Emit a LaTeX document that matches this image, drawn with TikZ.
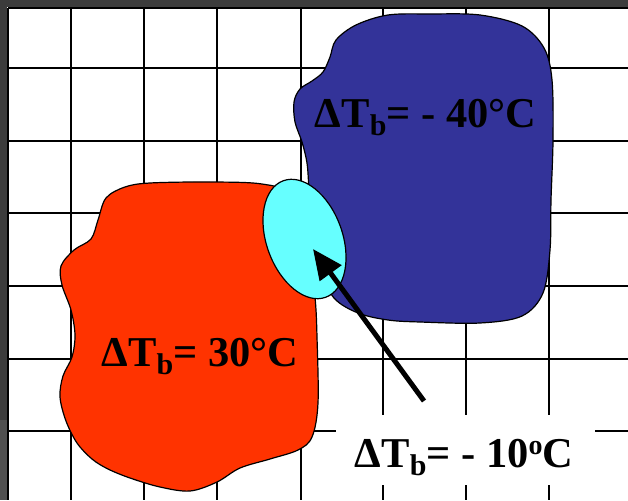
\documentclass[tikz,border=0pt]{standalone}
\usepackage{fontspec}
\setmainfont{Liberation Serif}
\usepackage{xcolor}
\usetikzlibrary{arrows.meta,shapes.geometric}
\definecolor{slidegray}{HTML}{3C3C3C}
\definecolor{slidegraylow}{HTML}{505050}
\definecolor{coldblue}{HTML}{333399}
\definecolor{hotred}{HTML}{FF3300}
\definecolor{mixcyan}{HTML}{66FFFF}
\newcommand{\tsub}[1]{\raisebox{-8pt}{\fontsize{30}{30}\selectfont #1}}
\newcommand{\tsup}[1]{\raisebox{13pt}{\fontsize{28}{28}\selectfont #1}}

\begin{document}
\begin{tikzpicture}[
  x=1pt, y=-1pt,
  every node/.style={font=\bfseries\fontsize{42.5}{50}\selectfont, inner sep=0pt},
  gridline/.style={black, line width=1.7pt},
  blob/.style={draw=black, line width=1.2pt},
  pointer/.style={black, line width=5pt, -{Triangle[length=30pt, width=26pt]}}
]
\useasboundingbox (0,0) rectangle (628,500);
\fill[white] (0,0) rectangle (628,500);

%% ==== grid ==========================================================
\foreach \gx in {8,71,144,217,301,383,466,549}
  \draw[gridline] (\gx,8) -- (\gx,500);
\foreach \gy in {8,68,141,213,286,359,431}
  \draw[gridline] (8,\gy) -- (628,\gy);

%% ==== slide border ==================================================
\fill[slidegray] (0,0) rectangle (628,7);
\fill[slidegray] (0,0) rectangle (7,500);
\fill[slidegraylow] (0,420) rectangle (7,500);

%% ==== cold region ===================================================
\draw[blob, fill=coldblue] plot[smooth cycle, tension=0.55] coordinates {
  (388,15) (430,14) (480,15) (522,26) (544,48) (552,80) (553,140)
  (551,200) (550,250) (543,293) (522,316) (480,323) (420,322)
  (388,320) (358,313) (334,298) (321,270) (313,230) (309,188)
  (307,163) (302,142) (295,122) (294,102) (300,89) (312,81)
  (323,72) (330,57) (336,40) (356,25)};

%% ==== hot region ====================================================
\draw[blob, fill=hotred] plot[smooth cycle, tension=0.55] coordinates {
  (150,183) (210,182) (262,184) (290,195) (308,240) (315,297)
  (317,337) (318,403) (312,437) (298,450) (270,459) (240,468)
  (217,482) (190,491) (160,487) (130,478) (108,469) (92,459)
  (77,443) (66,421) (60,397) (63,376) (72,357) (75,335) (71,310)
  (62,285) (61,266) (74,250) (91,239) (98,220) (106,198) (125,187)};

%% ==== mixing zone ===================================================
\node[draw=black, line width=1.2pt, fill=mixcyan, ellipse,
      minimum width=76pt, minimum height=124pt, rotate=20]
  (mixzone) at (304.5,239) {};

\coordinate (arrowtail) at (424,401);
\coordinate (arrowtip) at (313,249);
\draw[pointer] (arrowtail) -- (arrowtip);

%% ==== labels ========================================================
\node[anchor=base] (coldlbl) at (425.5,127) {ΔT\tsub{b}= - 40°C};
\node[anchor=base] (hotlbl) at (200,366) {ΔT\tsub{b}= 30°C};
\node[fill=white, minimum width=259pt, minimum height=70pt]
  (mixbox) at (465.5,450) {};
\node[anchor=base] (mixlbl) at (464,467) {ΔT\tsub{b}= - 10\tsup{o}C};

\end{tikzpicture}
\end{document}
